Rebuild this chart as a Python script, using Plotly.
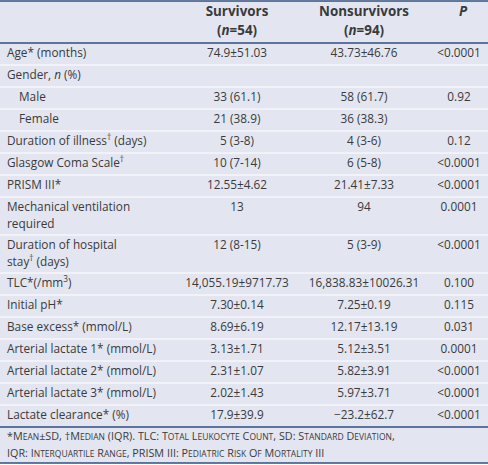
import plotly.graph_objects as go

# ---------------- data ----------------
labels = [
    "Age* (months)",
    "Gender, <i>n</i> (%)",
    "Male",
    "Female",
    "Duration of illness<sup>†</sup> (days)",
    "Glasgow Coma Scale<sup>†</sup>",
    "PRISM III*",
    "Mechanical ventilation<br>required",
    "Duration of hospital<br>stay<sup>†</sup> (days)",
    "TLC*(/mm<sup>3</sup>)",
    "Initial pH*",
    "Base excess* (mmol/L)",
    "Arterial lactate 1* (mmol/L)",
    "Arterial lactate 2* (mmol/L)",
    "Arterial lactate 3* (mmol/L)",
    "Lactate clearance* (%)",
]
indented = [False, False, True, True, False, False, False, False, False,
            False, False, False, False, False, False, False]
survivors = ["74.9±51.03", "", "33 (61.1)", "21 (38.9)", "5 (3-8)", "10 (7-14)",
             "12.55±4.62", "13", "12 (8-15)", "14,055.19±9717.73", "7.30±0.14",
             "8.69±6.19", "3.13±1.71", "2.31±1.07", "2.02±1.43", "17.9±39.9"]
nonsurvivors = ["43.73±46.76", "", "58 (61.7)", "36 (38.3)", "4 (3-6)", "6 (5-8)",
                "21.41±7.33", "94", "5 (3-9)", "16,838.83±10026.31", "7.25±0.19",
                "12.17±13.19", "5.12±3.51", "5.82±3.91", "5.97±3.71", "−23.2±62.7"]
p_values = ["&lt;0.0001", "", "0.92", "", "0.12", "&lt;0.0001", "&lt;0.0001", "0.0001",
            "&lt;0.0001", "0.100", "0.115", "0.031", "0.0001", "&lt;0.0001",
            "&lt;0.0001", "&lt;0.0001"]
headers = ["Survivors<br>(<i>n</i>=54)", "Nonsurvivors<br>(<i>n</i>=94)", "<i>P</i>"]
footnotes = [
    "*Mean±SD, †Median (IQR). TLC: Total Leukocyte Count, SD: Standard Deviation,",
    "IQR: Interquartile Range, PRISM III: Pediatric Risk Of Mortality III",
]

# ---------------- layout constants ----------------
W, H = 488, 465
BG = "#E3E6F1"
DARK = "#2E4F7F"
TXT = "#3a3a3a"
FONT = "Open Sans"
FS = 11.8
X_LABEL, X_INDENT = 7, 19
X_SURV, X_NONS, X_P = 237, 364, 459
HEAD_TOP, HEAD_BOT = 1, 43
SINGLE, DOUBLE, LINE2 = 22, 38, 17
FOOT_BOT = 463


def small_caps(s, small=8.5):
    out = []
    for ch in s:
        if ch.isalpha() and ch.islower():
            out.append(f'<span style="font-size:{small}px">{ch.upper()}</span>')
        else:
            out.append(ch)
    return "".join(out)


# row geometry
tops = []
y = HEAD_BOT
for lab in labels:
    tops.append(y)
    y += DOUBLE if "<br>" in lab else SINGLE
BODY_BOT = y

fig = go.Figure()

# label lines (split multi-line labels)
lx, ly, lt = [], [], []
for lab, ind, t in zip(labels, indented, tops):
    for k, part in enumerate(lab.split("<br>")):
        lx.append(X_INDENT if ind else X_LABEL)
        ly.append(t + 11 + k * LINE2)
        lt.append(part)
fig.add_trace(go.Scatter(x=lx, y=ly, text=lt, mode="text", textposition="middle right",
                         textfont=dict(family=FONT, size=FS, color=TXT), cliponaxis=False,
                         hoverinfo="skip", showlegend=False))

for col, xc in [(survivors, X_SURV), (nonsurvivors, X_NONS), (p_values, X_P)]:
    pts = [(t + 11, v) for t, v in zip(tops, col) if v]
    fig.add_trace(go.Scatter(x=[xc] * len(pts), y=[p[0] for p in pts],
                             text=[p[1] for p in pts],
                             mode="text", textposition="middle center", cliponaxis=False,
                             textfont=dict(family=FONT, size=FS, color=TXT),
                             hoverinfo="skip", showlegend=False))

# headers
hx, hy, ht = [], [], []
for hd, xc in zip(headers, [X_SURV, X_NONS, X_P + 4]):
    for k, part in enumerate(hd.split("<br>")):
        hx.append(xc)
        hy.append(13 + k * 19)
        ht.append(f"<b>{part}</b>")
fig.add_trace(go.Scatter(x=hx, y=hy, text=ht, mode="text", textposition="middle center",
                         textfont=dict(family=FONT, size=13.4, color=TXT), cliponaxis=False,
                         hoverinfo="skip", showlegend=False))

# footnotes
fig.add_trace(go.Scatter(x=[X_LABEL] * len(footnotes),
                         y=[BODY_BOT + 10 + k * 17 for k in range(len(footnotes))],
                         text=[small_caps(f) for f in footnotes],
                         mode="text", textposition="middle right", cliponaxis=False,
                         textfont=dict(family=FONT, size=10.8, color=TXT),
                         hoverinfo="skip", showlegend=False))

shapes = [dict(type="rect", x0=0, x1=W, y0=HEAD_TOP, y1=FOOT_BOT, xref="x", yref="y",
               fillcolor=BG, line=dict(width=0), layer="below")]
for t in tops[1:]:
    shapes.append(dict(type="line", x0=0, x1=W, y0=t, y1=t, xref="x", yref="y",
                       line=dict(color="white", width=1), layer="below"))
for yy in [HEAD_TOP, HEAD_BOT, BODY_BOT, FOOT_BOT]:
    shapes.append(dict(type="line", x0=0, x1=W, y0=yy, y1=yy, xref="x", yref="y",
                       line=dict(color=DARK, width=1.5), layer="below"))

fig.update_layout(
    width=W, height=H, margin=dict(l=0, r=0, t=0, b=0),
    paper_bgcolor="white", plot_bgcolor="white",
    xaxis=dict(range=[0, W], visible=False, fixedrange=True),
    yaxis=dict(range=[H, 0], visible=False, fixedrange=True),
    shapes=shapes,
)
fig.write_html("out.html", config={"displayModeBar": False},
               post_script="document.body.style.margin='0';document.body.style.overflow='hidden';")
